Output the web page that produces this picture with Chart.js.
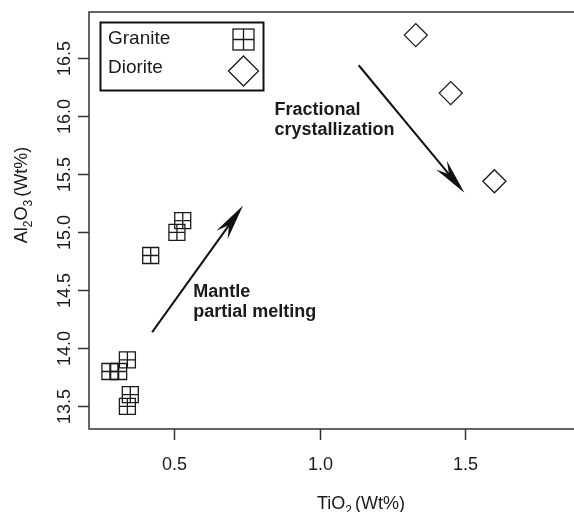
<!DOCTYPE html>
<html>
<head>
<meta charset="utf-8">
<script src="https://cdn.jsdelivr.net/npm/chart.js@4"></script>
<style>
  html, body { margin: 0; padding: 0; background: #fff; }
  canvas { display: block; }
</style>
</head>
<body>
<canvas id="chart" width="574" height="512"></canvas>
<script>
// data
const seriesNames = ["Granite", "Diorite"];
const graniteTiO2 = [0.28, 0.31, 0.34, 0.35, 0.34, 0.42, 0.51, 0.53];
const graniteAl2O3 = [13.8, 13.8, 13.9, 13.6, 13.5, 14.8, 15.0, 15.1];
const dioriteTiO2 = [1.33, 1.45, 1.60];
const dioriteAl2O3 = [16.7, 16.2, 15.44];
const xTicks = [0.5, 1.0, 1.5];
const yTicks = [13.5, 14.0, 14.5, 15.0, 15.5, 16.0, 16.5];

// annotations, in data units
const meltingArrow = [0.425, 14.14, 0.737, 15.23];
const fractionArrow = [1.134, 16.44, 1.497, 15.34];
const meltingText = ["Mantle", "partial melting"];
const meltingAt = [0.566, 14.44];
const fractionText = ["Fractional", "crystallization"];
const fractionAt = [0.845, 16.01];

const FONT = '"Liberation Sans", Arial, Helvetica, sans-serif';
const INK = "#1a1a1a";

function toPoints(xs, ys) {
  return xs.map((x, i) => ({ x: x, y: ys[i] }));
}

// text with subscripts: parts = [[text, sub, extraGap], ...]
function drawRich(ctx, parts, cx, base) {
  let widths = parts.map(p => {
    ctx.font = p[1] ? "12px " + FONT : "18px " + FONT;
    return ctx.measureText(p[0]).width + (p[2] || 0);
  });
  let total = widths.reduce((a, b) => a + b, 0);
  let x = cx - total / 2;
  parts.forEach((p, i) => {
    ctx.font = p[1] ? "12px " + FONT : "18px " + FONT;
    ctx.fillText(p[0], x, p[1] ? base + 5 : base);
    x += widths[i];
  });
}

function drawArrow(ctx, x0, y0, x1, y1) {
  const ang = Math.atan2(y1 - y0, x1 - x0);
  const len = 36, half = 7, notch = 12;
  ctx.beginPath();
  ctx.moveTo(x0, y0);
  ctx.lineTo(x1 - Math.cos(ang) * (len - notch), y1 - Math.sin(ang) * (len - notch));
  ctx.stroke();
  ctx.save();
  ctx.translate(x1, y1);
  ctx.rotate(ang);
  ctx.beginPath();
  ctx.moveTo(0, 0);
  ctx.lineTo(-len, -half);
  ctx.lineTo(-len + notch, 0);
  ctx.lineTo(-len, half);
  ctx.closePath();
  ctx.fill();
  ctx.restore();
}

const decorations = {
  id: "decorations",
  afterDatasetsDraw(chart) {
    const ctx = chart.ctx;
    const area = chart.chartArea;
    const xs = chart.scales.x;
    const ys = chart.scales.y;
    ctx.save();
    ctx.strokeStyle = "#333";
    ctx.fillStyle = INK;
    ctx.lineWidth = 1.5;

    // box (right side is cut off in the original)
    ctx.beginPath();
    ctx.moveTo(area.right + 2, area.top);
    ctx.lineTo(area.left, area.top);
    ctx.lineTo(area.left, area.bottom);
    ctx.lineTo(area.right + 2, area.bottom);
    ctx.stroke();

    // y ticks, rotated labels
    ctx.font = "18px " + FONT;
    ctx.textAlign = "center";
    ctx.textBaseline = "alphabetic";
    yTicks.forEach(v => {
      let py = Math.round(ys.getPixelForValue(v)) + 0.5;
      ctx.beginPath();
      ctx.moveTo(area.left - 11, py);
      ctx.lineTo(area.left, py);
      ctx.stroke();
      ctx.save();
      ctx.translate(70, py);
      ctx.rotate(-Math.PI / 2);
      ctx.fillText(v.toFixed(1), 0, 0);
      ctx.restore();
    });

    // x ticks
    xTicks.forEach(v => {
      let px = Math.round(xs.getPixelForValue(v)) + 0.5;
      ctx.beginPath();
      ctx.moveTo(px, area.bottom);
      ctx.lineTo(px, area.bottom + 11);
      ctx.stroke();
      ctx.fillText(v.toFixed(1), px, 470);
    });

    // axis titles
    ctx.textAlign = "left";
    drawRich(ctx, [["TiO", false], ["2", true, 3], ["(Wt%)", false]], 361, 509);
    ctx.save();
    ctx.translate(27, 195);
    ctx.rotate(-Math.PI / 2);
    drawRich(ctx, [["Al", false], ["2", true], ["O", false], ["3", true, 3], ["(Wt%)", false]], 0, 0);
    ctx.restore();

    // legend
    ctx.lineWidth = 2;
    ctx.strokeStyle = "#111";
    ctx.strokeRect(100.5, 22.5, 163, 68);
    ctx.font = "19px " + FONT;
    ctx.fillText(seriesNames[0], 108, 44);
    ctx.fillText(seriesNames[1], 108, 73);
    ctx.lineWidth = 1.3;
    ctx.strokeStyle = INK;
    ctx.strokeRect(233, 29, 21, 21);
    ctx.beginPath();
    ctx.moveTo(243.5, 29); ctx.lineTo(243.5, 50);
    ctx.moveTo(233, 39.5); ctx.lineTo(254, 39.5);
    ctx.stroke();
    ctx.beginPath();
    ctx.moveTo(228.5, 71); ctx.lineTo(243.5, 56); ctx.lineTo(258.5, 71); ctx.lineTo(243.5, 86);
    ctx.closePath();
    ctx.stroke();

    // arrows
    ctx.lineWidth = 2;
    ctx.strokeStyle = "#111";
    ctx.fillStyle = "#111";
    [meltingArrow, fractionArrow].forEach(a => {
      drawArrow(ctx, xs.getPixelForValue(a[0]), ys.getPixelForValue(a[1]),
        xs.getPixelForValue(a[2]), ys.getPixelForValue(a[3]));
    });

    // arrow labels
    ctx.fillStyle = INK;
    ctx.font = "bold 18px " + FONT;
    [[meltingText, meltingAt], [fractionText, fractionAt]].forEach(t => {
      let px = xs.getPixelForValue(t[1][0]);
      let py = ys.getPixelForValue(t[1][1]);
      t[0].forEach((line, i) => ctx.fillText(line, px, py + i * 19.5));
    });
    ctx.restore();
  }
};

const pointBase = {
  showLine: false,
  borderColor: INK,
  backgroundColor: "rgba(0,0,0,0)",
  pointBorderWidth: 1.3,
  pointBackgroundColor: "rgba(0,0,0,0)",
  pointBorderColor: INK
};

const ctx = document.getElementById("chart").getContext("2d");
const chart = new Chart(ctx, {
  type: "scatter",
  data: {
    datasets: [
      Object.assign({}, pointBase, {
        label: seriesNames[0],
        data: toPoints(graniteTiO2, graniteAl2O3),
        pointStyle: "rect",
        pointRadius: 11.3
      }),
      Object.assign({}, pointBase, {
        label: seriesNames[0] + " cross",
        data: toPoints(graniteTiO2, graniteAl2O3),
        pointStyle: "cross",
        pointRadius: 8
      }),
      Object.assign({}, pointBase, {
        label: seriesNames[1],
        data: toPoints(dioriteTiO2, dioriteAl2O3),
        pointStyle: "rectRot",
        pointRadius: 11.5
      })
    ]
  },
  options: {
    responsive: false,
    animation: false,
    events: [],
    layout: { autoPadding: false, padding: { left: 89, top: 12, right: 0, bottom: 83 } },
    plugins: {
      legend: { display: false },
      tooltip: { enabled: false }
    },
    scales: {
      x: { type: "linear", min: 0.2082, max: 1.8732, display: false },
      y: { type: "linear", min: 13.3043, max: 16.899, display: false }
    }
  },
  plugins: [decorations]
});
</script>
</body>
</html>
